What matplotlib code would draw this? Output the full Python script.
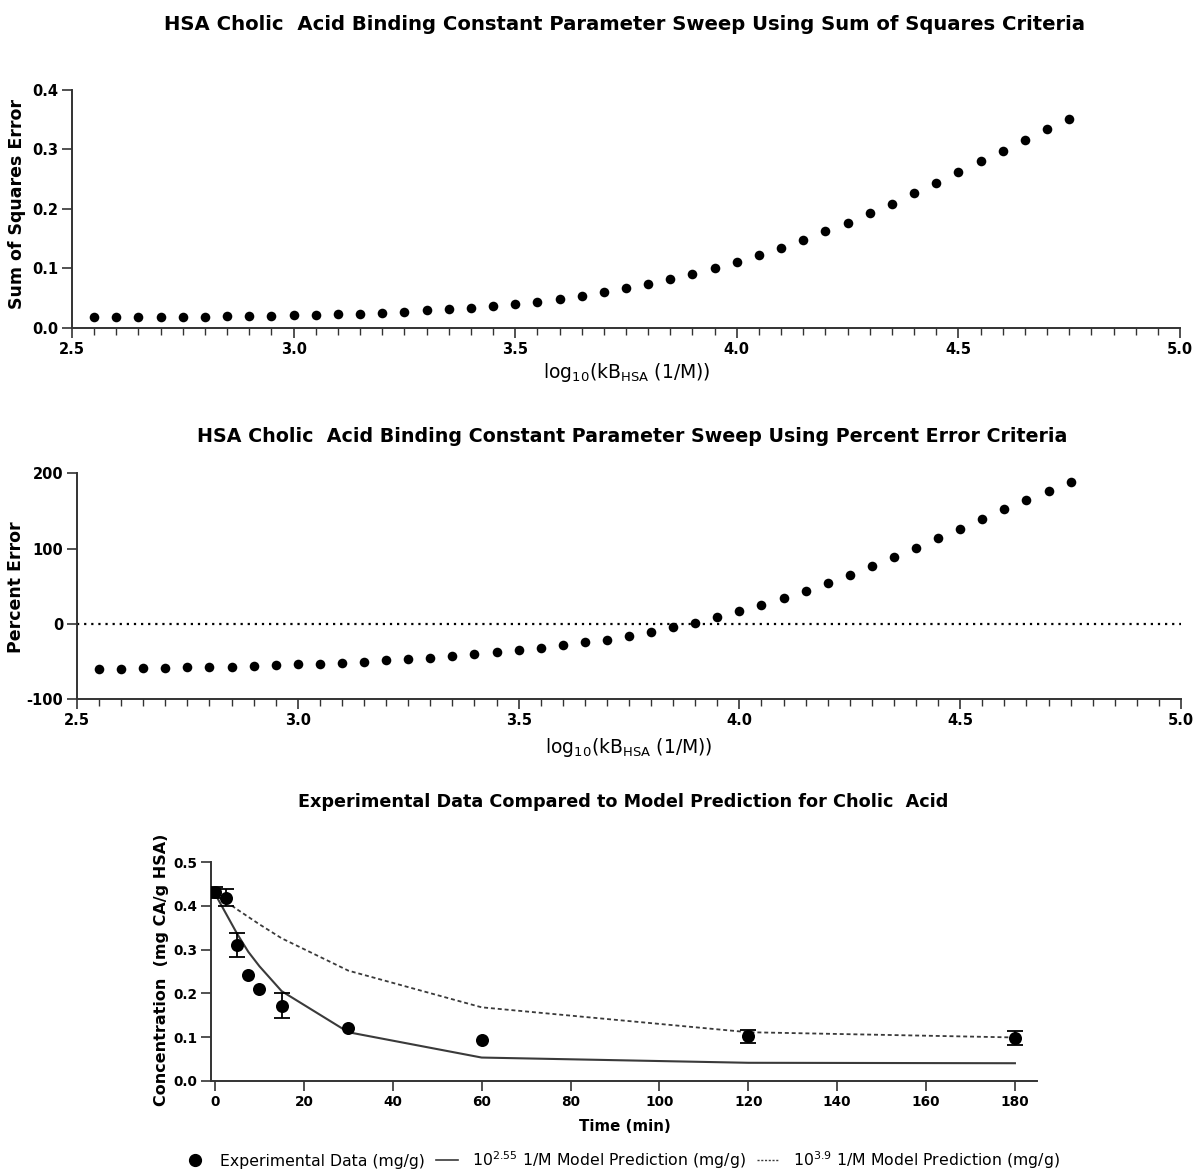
import numpy as np
import matplotlib
matplotlib.use("Agg")
import matplotlib.pyplot as plt
from matplotlib.ticker import MultipleLocator, FuncFormatter
from matplotlib.lines import Line2D

plt.rcParams['font.family'] = ['DejaVu Sans']
plt.rcParams['mathtext.fontset'] = 'dejavusans'
plt.rcParams['axes.unicode_minus'] = False

# ---- parameter sweep: log10 of the HSA binding constant ----
log_kb = [2.55, 2.60, 2.65, 2.70, 2.75, 2.80, 2.85, 2.90, 2.95, 3.00,
          3.05, 3.10, 3.15, 3.20, 3.25, 3.30, 3.35, 3.40, 3.45, 3.50,
          3.55, 3.60, 3.65, 3.70, 3.75, 3.80, 3.85, 3.90, 3.95, 4.00,
          4.05, 4.10, 4.15, 4.20, 4.25, 4.30, 4.35, 4.40, 4.45, 4.50,
          4.55, 4.60, 4.65, 4.70, 4.75]

sse = [0.0174, 0.0175, 0.0178, 0.0180, 0.0183, 0.0186, 0.0190, 0.0196, 0.0201, 0.0207,
       0.0214, 0.0224, 0.0236, 0.0252, 0.0270, 0.0290, 0.0314, 0.0337, 0.0365, 0.0399,
       0.0438, 0.0483, 0.0534, 0.0596, 0.0663, 0.0742, 0.0815, 0.0910, 0.1000, 0.1107,
       0.1225, 0.1348, 0.1478, 0.1624, 0.1770, 0.1927, 0.2090, 0.2264, 0.2438, 0.2612,
       0.2798, 0.2978, 0.3157, 0.3337, 0.3511]

pct_error = [-59.7, -59.3, -58.8, -58.4, -57.6, -57.1, -56.5, -55.4, -54.4, -53.5,
             -52.6, -51.3, -50.0, -48.2, -46.5, -44.6, -42.5, -40.3, -37.7, -35.0,
             -31.9, -28.3, -24.3, -20.8, -15.5, -10.2, -4.4, 1.8, 9.3, 16.8,
             24.8, 34.5, 43.8, 54.9, 65.0, 76.5, 88.9, 101.3, 113.7, 126.5,
             139.4, 152.7, 164.6, 177.0, 188.5]

# ---- time course: experiment vs. model ----
time_min = [0, 2.5, 5, 7.5, 10, 15, 30, 60, 120, 180]
conc_exp = [0.431, 0.419, 0.311, 0.242, 0.211, 0.172, 0.120, 0.094, 0.102, 0.097]
conc_err = [0.012, 0.020, 0.028, 0.0, 0.0, 0.029, 0.0, 0.0, 0.015, 0.016]
model_255 = [0.428, 0.382, 0.336, 0.295, 0.262, 0.205, 0.111, 0.053, 0.041, 0.040]
model_39 = [0.428, 0.410, 0.392, 0.375, 0.358, 0.326, 0.252, 0.168, 0.111, 0.099]

W, H = 1194, 1171
fig = plt.figure(figsize=(W / 100, H / 100), dpi=100)

SPINE = '#333333'


def style_axes(ax, labelsize):
    for s in ('top', 'right'):
        ax.spines[s].set_visible(False)
    for s in ('left', 'bottom'):
        ax.spines[s].set_color(SPINE)
        ax.spines[s].set_linewidth(1.4)
    ax.tick_params(which='major', direction='out', length=7, width=1.2,
                   color=SPINE, labelsize=labelsize, pad=3)
    ax.tick_params(which='minor', direction='out', length=5, width=1.0,
                   color=SPINE)


def bold_ticklabels(ax):
    for lab in ax.get_xticklabels() + ax.get_yticklabels():
        lab.set_fontweight('bold')


def px(x):
    return x / W


def py(y):
    return 1 - y / H


xlabel_kb = r'log$_{10}$(kB$_{\mathrm{HSA}}$ (1/M))'

# ---- panel 1: sum of squares ----
ax1 = fig.add_axes([px(72), py(327.7), px(1180) - px(72), py(90) - py(327.7)])
ax1.scatter(log_kb, sse, s=48, color='black', zorder=3, linewidths=0)
ax1.set_xlim(2.5, 5.0)
ax1.set_ylim(0, 0.4)
ax1.xaxis.set_major_locator(MultipleLocator(0.5))
ax1.xaxis.set_minor_locator(MultipleLocator(0.05))
ax1.yaxis.set_major_locator(MultipleLocator(0.1))
ax1.xaxis.set_major_formatter(FuncFormatter(lambda v, p: f'{v:.1f}'))
ax1.yaxis.set_major_formatter(FuncFormatter(lambda v, p: f'{v:.1f}'))
style_axes(ax1, 10.5)
bold_ticklabels(ax1)
ax1.set_xlabel(xlabel_kb, fontsize=13.5)
ax1.xaxis.set_label_coords(px(627), py(361), transform=fig.transFigure)
ax1.set_ylabel('Sum of Squares Error', fontsize=12.5, fontweight='bold')
ax1.yaxis.set_label_coords(px(26), py(204), transform=fig.transFigure)
fig.text(px(625), py(25), 'HSA Cholic  Acid Binding Constant Parameter Sweep Using Sum of Squares Criteria',
         ha='center', va='center', fontsize=14.1, fontweight='bold')

# ---- panel 2: percent error ----
ax2 = fig.add_axes([px(77), py(699.3), px(1181) - px(77), py(473.3) - py(699.3)])
ax2.axhline(0, color='black', lw=1.6, ls=(0, (1, 2.2)), zorder=1)
ax2.scatter(log_kb, pct_error, s=48, color='black', zorder=3, linewidths=0)
ax2.set_xlim(2.5, 5.0)
ax2.set_ylim(-100, 200)
ax2.xaxis.set_major_locator(MultipleLocator(0.5))
ax2.xaxis.set_minor_locator(MultipleLocator(0.05))
ax2.yaxis.set_major_locator(MultipleLocator(100))
ax2.xaxis.set_major_formatter(FuncFormatter(lambda v, p: f'{v:.1f}'))
ax2.yaxis.set_major_formatter(FuncFormatter(lambda v, p: f'{v:.0f}'))
style_axes(ax2, 10.5)
bold_ticklabels(ax2)
ax2.set_xlabel(xlabel_kb, fontsize=13.5)
ax2.xaxis.set_label_coords(px(629), py(736), transform=fig.transFigure)
ax2.set_ylabel('Percent Error', fontsize=12.5, fontweight='bold')
ax2.yaxis.set_label_coords(px(25), py(587), transform=fig.transFigure)
fig.text(px(632), py(437), 'HSA Cholic  Acid Binding Constant Parameter Sweep Using Percent Error Criteria',
         ha='center', va='center', fontsize=13.7, fontweight='bold')

# ---- panel 3: concentration time course ----
ax3 = fig.add_axes([px(211), py(1080.7), px(1036.7) - px(211), py(862.3) - py(1080.7)])
ax3.plot(time_min, model_255, color='#3a3a3a', lw=1.5, zorder=2)
ax3.plot(time_min, model_39, color='#3a3a3a', lw=1.3, ls=(0, (2.2, 1.6)), zorder=2)
t_arr = np.array(time_min)
c_arr = np.array(conc_exp)
e_arr = np.array(conc_err)
has_err = e_arr > 0
ax3.errorbar(t_arr[has_err], c_arr[has_err], yerr=e_arr[has_err], fmt='none',
             ecolor='black', elinewidth=1.3, capsize=6, capthick=1.3, zorder=3)
ax3.scatter(time_min, conc_exp, s=88, color='black', zorder=4, linewidths=0)
ax3.set_xlim(-0.9, 184.9)
ax3.set_ylim(0, 0.5)
ax3.set_xticks(np.arange(0, 181, 20))
ax3.yaxis.set_major_locator(MultipleLocator(0.1))
ax3.yaxis.set_major_formatter(FuncFormatter(lambda v, p: f'{v:.1f}'))
style_axes(ax3, 9.8)
bold_ticklabels(ax3)
ax3.set_xlabel('Time (min)', fontsize=10.8, fontweight='bold')
ax3.xaxis.set_label_coords(px(625), py(1119), transform=fig.transFigure)
ax3.set_ylabel('Concentration  (mg CA/g HSA)', fontsize=11.5, fontweight='bold')
ax3.yaxis.set_label_coords(px(169), py(970), transform=fig.transFigure)
fig.text(px(623), py(802), 'Experimental Data Compared to Model Prediction for Cholic  Acid',
         ha='center', va='center', fontsize=12.7, fontweight='bold')

handles = [
    Line2D([], [], ls='none', marker='o', color='black', markersize=8.5),
    Line2D([], [], color='#3a3a3a', lw=1.2),
    Line2D([], [], color='#3a3a3a', lw=1.0, ls=(0, (1.5, 1.2))),
]
labels = ['Experimental Data (mg/g)',
          r'10$^{2.55}$ 1/M Model Prediction (mg/g)',
          r'10$^{3.9}$ 1/M Model Prediction (mg/g)']
fig.legend(handles, labels, loc='center', bbox_to_anchor=(px(622), py(1160)),
           ncol=3, frameon=False, fontsize=11.3, handlelength=1.4,
           handletextpad=0.9, columnspacing=0.7, borderpad=0)

fig.savefig('out.png', dpi=100)
